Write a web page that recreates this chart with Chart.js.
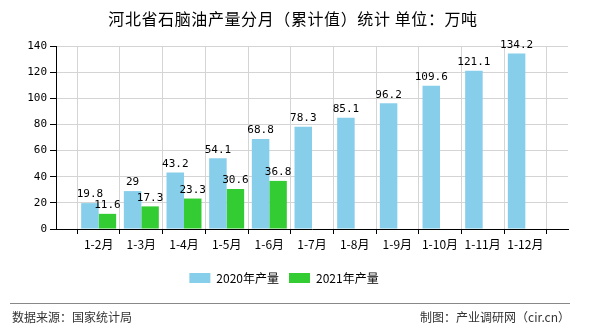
<!DOCTYPE html>
<html>
<head>
<meta charset="utf-8">
<script src="https://cdn.jsdelivr.net/npm/chart.js@4/dist/chart.umd.min.js"></script>
<style>
  html, body { margin: 0; padding: 0; background: #fff; }
  #wrap { width: 590px; height: 330px; position: relative; }
</style>
</head>
<body>
<div id="wrap"><canvas id="chart" width="590" height="330"></canvas></div>
<script>
// 河北省石脑油产量分月（累计值）
const months = ['1-2月', '1-3月', '1-4月', '1-5月', '1-6月', '1-7月', '1-8月', '1-9月', '1-10月', '1-11月', '1-12月'];
const output2020 = [19.8, 29, 43.2, 54.1, 68.8, 78.3, 85.1, 96.2, 109.6, 121.1, 134.2];
const output2021 = [11.6, 17.3, 23.3, 30.6, 36.8, null, null, null, null, null, null];
const yTicks = [0, 20, 40, 60, 80, 100, 120, 140];

const CJK = '"Noto Sans CJK SC", "Noto Sans", sans-serif';
const MONO = '"DejaVu Sans Mono", "Liberation Mono", monospace';

// 两端各留一个空位
const labels = [''].concat(months, ['']);
const pad = (arr) => [null].concat(arr, [null]);

// 柱顶数值
const valueLabels = {
    id: 'valueLabels',
    afterDatasetsDraw(chart) {
        const ctx = chart.ctx;
        ctx.save();
        ctx.font = '11px ' + MONO;
        ctx.fillStyle = '#000';
        ctx.textAlign = 'center';
        ctx.textBaseline = 'bottom';
        chart.data.datasets.forEach((ds, i) => {
            const meta = chart.getDatasetMeta(i);
            meta.data.forEach((bar, j) => {
                const v = ds.data[j];
                if (v === null || v === undefined) return;
                ctx.fillText(String(v), bar.x, bar.y - 3);
            });
        });
        ctx.restore();
    }
};

// 标题和底部来源
const frame = {
    id: 'frame',
    afterDraw(chart) {
        const ctx = chart.ctx;
        ctx.save();
        ctx.fillStyle = '#000';
        ctx.textAlign = 'center';
        ctx.textBaseline = 'middle';
        ctx.font = '16px ' + CJK;
        ctx.letterSpacing = '0.6px';
        ctx.fillText('河北省石脑油产量分月（累计值）统计 单位：万吨', 293, 19);
        ctx.letterSpacing = '0px';

        ctx.strokeStyle = '#888';
        ctx.lineWidth = 1;
        ctx.beginPath();
        ctx.moveTo(10, 303.5);
        ctx.lineTo(570, 303.5);
        ctx.stroke();

        ctx.font = '12px ' + CJK;
        ctx.fillStyle = '#333';
        ctx.textAlign = 'left';
        ctx.fillText('数据来源：国家统计局', 12, 317);
        ctx.textAlign = 'right';
        ctx.fillText('制图：产业调研网（cir.cn）', 570, 317);
        ctx.restore();
    }
};

new Chart(document.getElementById('chart').getContext('2d'), {
    type: 'bar',
    data: {
        labels: labels,
        datasets: [{
            label: '2020年产量',
            data: pad(output2020),
            backgroundColor: '#87CEEB',
            categoryPercentage: 0.82,
            barPercentage: 1
        }, {
            label: '2021年产量',
            data: pad(output2021),
            backgroundColor: '#33CC33',
            categoryPercentage: 0.82,
            barPercentage: 1
        }]
    },
    options: {
        responsive: false,
        animation: false,
        layout: { padding: { left: 0, right: 22, top: 46, bottom: 36 } },
        plugins: {
            title: { display: false },
            tooltip: { enabled: false },
            legend: {
                position: 'bottom',
                labels: {
                    boxWidth: 21,
                    boxHeight: 10,
                    padding: 10,
                    color: '#000',
                    font: { size: 12, family: CJK }
                }
            }
        },
        scales: {
            x: {
                offset: false,
                grid: { color: '#d4d4d4', tickLength: 5, tickColor: '#000' },
                border: { color: '#000' },
                ticks: {
                    color: '#000',
                    padding: 3,
                    maxRotation: 0,
                    autoSkip: false,
                    font: { size: 12, family: CJK }
                },
                afterFit(s) { s.height = 33; }
            },
            y: {
                min: 0,
                max: 140,
                afterBuildTicks(s) { s.ticks = yTicks.map(v => ({ value: v })); },
                grid: { color: '#d4d4d4', tickLength: 6, tickColor: '#000' },
                border: { color: '#000' },
                ticks: {
                    color: '#000',
                    padding: 3,
                    font: { size: 11, family: MONO }
                },
                afterFit(s) { s.width = 56; }
            }
        }
    },
    plugins: [valueLabels, frame]
});
</script>
</body>
</html>
